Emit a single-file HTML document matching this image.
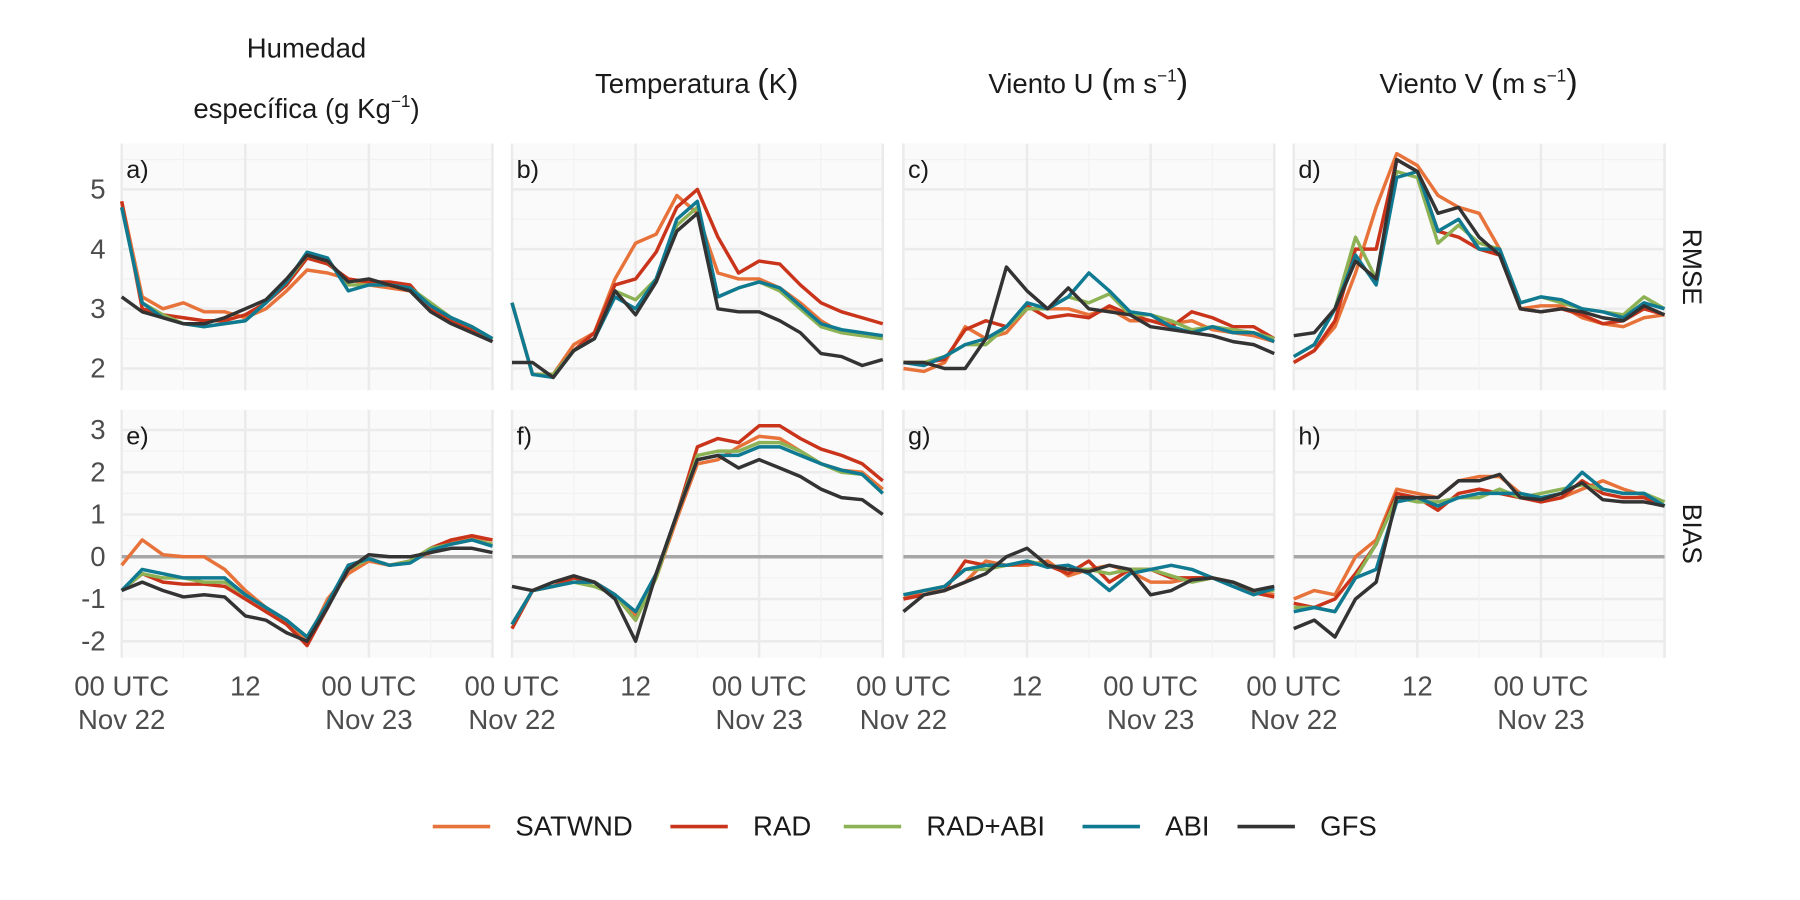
<!DOCTYPE html>
<html><head><meta charset="utf-8"><style>
html,body{margin:0;padding:0;background:#fff;}
svg{display:block;font-family:"Liberation Sans",sans-serif;}
</style></head><body>
<svg id="chart" width="1800" height="900" viewBox="0 0 1568 784" preserveAspectRatio="none" xmlns="http://www.w3.org/2000/svg">
<rect width="1568" height="784" fill="#fff"/>
<g id="titles" font-size="24" fill="#1a1a1a" text-anchor="middle">
<text x="267" y="50">Humedad</text>
<text x="267" y="103">específica (g Kg<tspan font-size="15" dy="-10">−1</tspan><tspan dy="10">)</tspan></text>
<text x="607" y="81">Temperatura <tspan font-size="30">(</tspan>K<tspan font-size="30">)</tspan></text>
<text x="948" y="81">Viento U <tspan font-size="30">(</tspan>m s<tspan font-size="15" dy="-10">−1</tspan><tspan dy="10" font-size="30">)</tspan></text>
<text x="1288" y="81">Viento V <tspan font-size="30">(</tspan>m s<tspan font-size="15" dy="-10">−1</tspan><tspan dy="10" font-size="30">)</tspan></text>
</g>
<g id="panels"></g>
<g id="legend" font-size="24" fill="#1a1a1a"></g>
</svg>
<script>
const hours = [0,2,4,6,8,10,12,14,16,18,20,22,24,26,28,30,32,34,36];
const seriesNames = ["SATWND","RAD","RAD+ABI","ABI","GFS"];
const seriesColors = ["#E8733A","#C9341A","#8DB255","#0F7A92","#333333"];
const panelLabels = ["a)","b)","c)","d)","e)","f)","g)","h)"];
const rmseTicks = [2,3,4,5];
const biasTicks = [-2,-1,0,1,2,3];
const xTickHours = [0,12,24,36];
const xTickLine1 = ["00 UTC","12","00 UTC",""];
const xTickLine2 = ["Nov 22","","Nov 23",""];

const a_SATWND=[4.8,3.2,3.0,3.1,2.95,2.95,2.85,3.0,3.3,3.65,3.6,3.5,3.4,3.35,3.3,3.0,2.8,2.65,2.5];
const a_RAD=[4.8,3.0,2.9,2.85,2.8,2.8,2.9,3.1,3.4,3.85,3.75,3.5,3.45,3.45,3.4,3.0,2.8,2.65,2.45];
const a_RADABI=[4.7,3.1,2.9,2.75,2.7,2.75,2.8,3.1,3.45,3.9,3.8,3.4,3.4,3.4,3.35,3.1,2.85,2.7,2.5];
const a_ABI=[4.7,3.1,2.85,2.75,2.7,2.75,2.8,3.1,3.45,3.95,3.85,3.3,3.4,3.4,3.35,3.05,2.85,2.7,2.5];
const a_GFS=[3.2,2.95,2.85,2.75,2.75,2.85,3.0,3.15,3.5,3.9,3.8,3.45,3.5,3.4,3.3,2.95,2.75,2.6,2.45];
const b_SATWND=[3.1,1.9,1.9,2.4,2.6,3.5,4.1,4.25,4.9,4.6,3.6,3.5,3.5,3.35,3.1,2.8,2.6,2.55,2.55];
const b_RAD=[3.1,1.9,1.9,2.3,2.6,3.4,3.5,3.95,4.7,5.0,4.2,3.6,3.8,3.75,3.4,3.1,2.95,2.85,2.75];
const b_RADABI=[3.1,1.9,1.9,2.3,2.5,3.3,3.15,3.5,4.4,4.7,3.2,3.35,3.45,3.3,3.0,2.7,2.6,2.55,2.5];
const b_ABI=[3.1,1.9,1.85,2.3,2.5,3.2,3.0,3.5,4.5,4.8,3.2,3.35,3.45,3.35,3.05,2.75,2.65,2.6,2.55];
const b_GFS=[2.1,2.1,1.85,2.3,2.5,3.3,2.9,3.45,4.3,4.6,3.0,2.95,2.95,2.8,2.6,2.25,2.2,2.05,2.15];
const c_SATWND=[2.0,1.95,2.1,2.7,2.5,2.6,3.0,3.0,3.0,2.9,3.0,2.8,2.8,2.75,2.8,2.65,2.6,2.55,2.45];
const c_RAD=[2.1,2.1,2.15,2.65,2.8,2.7,3.05,2.85,2.9,2.85,3.05,2.9,2.8,2.7,2.95,2.85,2.7,2.7,2.5];
const c_RADABI=[2.1,2.1,2.2,2.4,2.4,2.7,3.0,3.0,3.2,3.1,3.25,2.9,2.9,2.8,2.65,2.7,2.65,2.6,2.5];
const c_ABI=[2.1,2.05,2.2,2.4,2.5,2.7,3.1,3.0,3.2,3.6,3.3,2.95,2.9,2.7,2.6,2.7,2.6,2.6,2.45];
const c_GFS=[2.1,2.1,2.0,2.0,2.5,3.7,3.3,3.0,3.35,3.0,2.95,2.9,2.7,2.65,2.6,2.55,2.45,2.4,2.25];
const d_SATWND=[2.1,2.3,2.7,3.6,4.7,5.6,5.4,4.9,4.7,4.6,4.0,3.0,3.05,3.05,2.85,2.75,2.7,2.85,2.9];
const d_RAD=[2.1,2.3,2.8,4.0,4.0,5.5,5.3,4.3,4.2,4.0,3.9,3.0,2.95,3.0,2.9,2.75,2.8,3.0,2.9];
const d_RADABI=[2.2,2.4,3.0,4.2,3.5,5.3,5.2,4.1,4.4,4.1,4.0,3.1,3.2,3.1,3.0,2.95,2.9,3.2,3.0];
const d_ABI=[2.2,2.4,3.0,3.9,3.4,5.2,5.3,4.3,4.5,4.0,4.0,3.1,3.2,3.15,3.0,2.95,2.85,3.1,3.0];
const d_GFS=[2.55,2.6,3.0,3.8,3.5,5.5,5.3,4.6,4.7,4.2,3.9,3.0,2.95,3.0,2.95,2.85,2.8,3.05,2.9];
const e_SATWND=[-0.2,0.4,0.05,0.0,0.0,-0.3,-0.8,-1.2,-1.6,-2.0,-1.0,-0.4,-0.1,-0.2,-0.1,0.1,0.35,0.45,0.4];
const e_RAD=[-0.8,-0.4,-0.6,-0.65,-0.65,-0.7,-1.0,-1.3,-1.6,-2.1,-1.2,-0.2,-0.05,-0.2,-0.1,0.2,0.4,0.5,0.4];
const e_RADABI=[-0.8,-0.4,-0.5,-0.5,-0.6,-0.6,-0.9,-1.2,-1.5,-1.9,-1.1,-0.3,-0.05,-0.2,-0.1,0.2,0.3,0.4,0.3];
const e_ABI=[-0.8,-0.3,-0.4,-0.5,-0.5,-0.5,-0.9,-1.2,-1.5,-1.9,-1.1,-0.2,-0.05,-0.2,-0.15,0.15,0.3,0.4,0.25];
const e_GFS=[-0.8,-0.6,-0.8,-0.95,-0.9,-0.95,-1.4,-1.5,-1.8,-2.0,-1.2,-0.3,0.05,0.0,0.0,0.1,0.2,0.2,0.1];
const f_SATWND=[-1.6,-0.8,-0.7,-0.5,-0.6,-0.9,-1.4,-0.5,0.9,2.2,2.3,2.6,2.85,2.8,2.5,2.2,2.05,2.0,1.6];
const f_RAD=[-1.7,-0.8,-0.7,-0.5,-0.6,-0.9,-1.5,-0.4,1.0,2.6,2.8,2.7,3.1,3.1,2.8,2.55,2.4,2.2,1.8];
const f_RADABI=[-1.6,-0.8,-0.7,-0.6,-0.7,-0.9,-1.5,-0.5,1.0,2.4,2.5,2.5,2.7,2.7,2.5,2.2,2.0,1.95,1.5];
const f_ABI=[-1.6,-0.8,-0.7,-0.6,-0.6,-0.9,-1.3,-0.4,1.0,2.3,2.4,2.4,2.6,2.6,2.4,2.2,2.05,1.95,1.5];
const f_GFS=[-0.7,-0.8,-0.6,-0.45,-0.6,-1.0,-2.0,-0.4,1.0,2.3,2.4,2.1,2.3,2.1,1.9,1.6,1.4,1.35,1.0];
const g_SATWND=[-1.0,-0.8,-0.8,-0.6,-0.1,-0.2,-0.2,-0.1,-0.45,-0.3,-0.2,-0.35,-0.6,-0.6,-0.5,-0.5,-0.6,-0.8,-0.9];
const g_RAD=[-1.0,-0.9,-0.8,-0.1,-0.2,-0.2,-0.15,-0.2,-0.4,-0.1,-0.6,-0.3,-0.3,-0.5,-0.5,-0.5,-0.6,-0.85,-0.95];
const g_RADABI=[-0.9,-0.8,-0.7,-0.3,-0.3,-0.2,-0.1,-0.2,-0.3,-0.3,-0.4,-0.3,-0.3,-0.45,-0.6,-0.5,-0.6,-0.8,-0.8];
const g_ABI=[-0.9,-0.8,-0.7,-0.3,-0.2,-0.2,-0.1,-0.25,-0.2,-0.4,-0.8,-0.4,-0.3,-0.2,-0.3,-0.5,-0.7,-0.9,-0.75];
const g_GFS=[-1.3,-0.9,-0.8,-0.6,-0.4,0.0,0.2,-0.2,-0.3,-0.35,-0.2,-0.3,-0.9,-0.8,-0.55,-0.5,-0.6,-0.8,-0.7];
const h_SATWND=[-1.0,-0.8,-0.9,0.0,0.4,1.6,1.5,1.4,1.8,1.9,1.9,1.5,1.3,1.4,1.6,1.8,1.6,1.45,1.2];
const h_RAD=[-1.1,-1.2,-1.0,-0.4,0.3,1.5,1.4,1.1,1.5,1.6,1.5,1.4,1.3,1.4,1.8,1.5,1.4,1.4,1.2];
const h_RADABI=[-1.2,-1.2,-1.3,-0.5,0.3,1.4,1.3,1.3,1.4,1.4,1.6,1.4,1.5,1.6,1.7,1.6,1.5,1.5,1.3];
const h_ABI=[-1.3,-1.2,-1.3,-0.5,-0.3,1.3,1.4,1.2,1.4,1.5,1.5,1.5,1.4,1.5,2.0,1.6,1.5,1.5,1.2];
const h_GFS=[-1.7,-1.5,-1.9,-1.0,-0.6,1.4,1.4,1.4,1.8,1.8,1.95,1.4,1.35,1.5,1.75,1.35,1.3,1.3,1.2];

const panelData = [
 [a_SATWND,a_RAD,a_RADABI,a_ABI,a_GFS],[b_SATWND,b_RAD,b_RADABI,b_ABI,b_GFS],
 [c_SATWND,c_RAD,c_RADABI,c_ABI,c_GFS],[d_SATWND,d_RAD,d_RADABI,d_ABI,d_GFS],
 [e_SATWND,e_RAD,e_RADABI,e_ABI,e_GFS],[f_SATWND,f_RAD,f_RADABI,f_ABI,f_GFS],
 [g_SATWND,g_RAD,g_RADABI,g_ABI,g_GFS],[h_SATWND,h_RAD,h_RADABI,h_ABI,h_GFS]];

const NS="http://www.w3.org/2000/svg";
function mk(tag,attrs,parent){const e=document.createElementNS(NS,tag);for(const k in attrs)e.setAttribute(k,attrs[k]);parent.appendChild(e);return e;}
const colX=[106,446,787,1127], PW=323;
const rowY=[125,357], PH=[215,216];
function yRmse(v){return 321-(v-2)*52;}
function yBias(v){return 485-v*36.8;}
function xS(col,h){return colX[col]+h/36*PW;}
const panels=document.getElementById('panels');
for(let p=0;p<8;p++){
  const col=p%4,row=Math.floor(p/4);
  const yS=row===0?yRmse:yBias;
  const g=mk('g',{},panels);
  
  
  const x0=colX[col],y0=rowY[row],h=PH[row];
  mk('rect',{x:x0,y:y0,width:PW,height:h,fill:'#fafafa'},g);
  const ticks=row===0?rmseTicks:biasTicks;
  const lo=row===0?1.5:-2.5, hi=row===0?5.5:3.5;
  for(let v=lo;v<=hi;v+=0.5){const y=yS(v);if(y<y0||y>y0+h)continue;
    const major=Number.isInteger(v);
    mk('line',{x1:x0,x2:x0+PW,y1:y,y2:y,stroke:major?'#ebebeb':'#f2f2f2','stroke-width':major?2.2:1.1},g);}
  for(let hh=0;hh<=36;hh+=6){const x=xS(col,hh);const major=hh%12===0;
    mk('line',{x1:x,x2:x,y1:y0,y2:y0+h,stroke:major?'#ebebeb':'#f2f2f2','stroke-width':major?2.2:1.1},g);}
  if(row===1){const zl=mk('line',{x1:x0,x2:x0+PW,y1:yS(0),y2:yS(0),stroke:'#a6a6a6','stroke-width':3},g);
    }
  const lab=mk('text',{x:x0+4,y:y0+30,'font-size':22,fill:'#1a1a1a'},g);lab.textContent=panelLabels[p];
  
  for(let s=0;s<5;s++){
    const vals=panelData[p][s];
    const d=vals.map((v,i)=>(i?'L':'M')+xS(col,hours[i]).toFixed(1)+' '+yS(v).toFixed(1)).join(' ');
    const pl=mk('path',{d:d,fill:'none',stroke:seriesColors[s],'stroke-width':3,'stroke-linejoin':'round'},g);
    
    
  }
  if(col===0){for(const t of ticks){const tx=mk('text',{x:92,y:yS(t)+8,'font-size':24,fill:'#4d4d4d','text-anchor':'end'},g);tx.textContent=t;
    }}
  if(row===1){xTickHours.forEach((hh,i)=>{const x=xS(col,hh);
    if(xTickLine1[i]){const t1=mk('text',{x:x,y:606,'font-size':24,fill:'#4d4d4d','text-anchor':'middle'},g);t1.textContent=xTickLine1[i];
      }
    if(xTickLine2[i]){const t2=mk('text',{x:x,y:635,'font-size':24,fill:'#4d4d4d','text-anchor':'middle'},g);t2.textContent=xTickLine2[i];
      }
  });}
  if(col===3){const st=mk('text',{x:1466,y:y0+h/2,'font-size':23,fill:'#1a1a1a','text-anchor':'middle',transform:'rotate(90 1466 '+(y0+h/2)+')'},g);
    st.textContent=row===0?'RMSE':'BIAS';}
}
const leg=document.getElementById('legend');
const legX=[377,584,735,943,1078];
seriesNames.forEach((n,i)=>{
  const g=mk('g',{},leg);
  
  
  mk('line',{x1:legX[i],x2:legX[i]+50,y1:720,y2:720,stroke:seriesColors[i],'stroke-width':3.2},g);
  const t=mk('text',{x:legX[i]+72,y:728},g);t.textContent=n;
});
</script>
</body></html>
